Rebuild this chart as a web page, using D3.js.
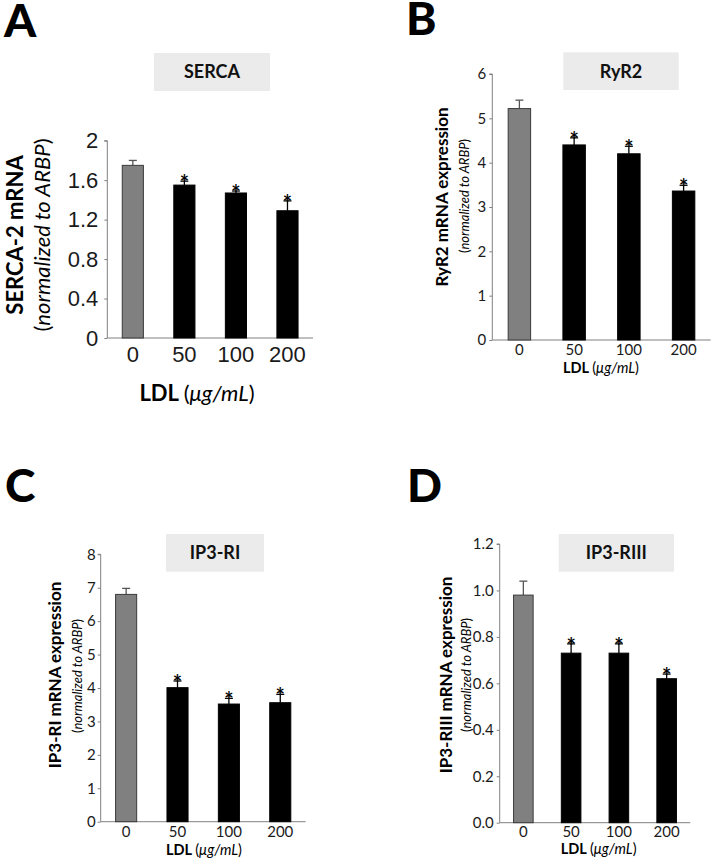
<!DOCTYPE html>
<html>
<head>
<meta charset="utf-8">
<script src="https://cdn.jsdelivr.net/npm/d3@7"></script>
<style>
  html, body { margin: 0; padding: 0; background: #fff; }
  svg { display: block; }
</style>
</head>
<body>
<svg id="chart" width="717" height="862"></svg>
<script>
// ---------- DATA ----------
const categories = ["0", "50", "100", "200"];
const significant = [false, true, true, true];

const sercaValues = [1.75, 1.55, 1.47, 1.29];
const sercaErrors = [0.05, 0.04, 0.02, 0.10];
const sercaTicks = [0, 0.4, 0.8, 1.2, 1.6, 2];

const ryr2Values = [5.22, 4.40, 4.20, 3.36];
const ryr2Errors = [0.19, 0.16, 0.17, 0.13];
const ryr2Ticks = [0, 1, 2, 3, 4, 5, 6];

const ip3r1Values = [6.80, 4.01, 3.52, 3.56];
const ip3r1Errors = [0.18, 0.20, 0.17, 0.25];
const ip3r1Ticks = [0, 1, 2, 3, 4, 5, 6, 7, 8];

const ip3r3Values = [0.98, 0.73, 0.73, 0.62];
const ip3r3Errors = [0.06, 0.04, 0.04, 0.02];
const ip3r3Ticks = [0, 0.2, 0.4, 0.6, 0.8, 1.0, 1.2];

const panelLetters = ["A", "B", "C", "D"];
const panelTitles = ["SERCA", "RyR2", "IP3-RI", "IP3-RIII"];
const yTitles = ["SERCA-2 mRNA", "RyR2 mRNA expression", "IP3-RI mRNA expression", "IP3-RIII mRNA expression"];

// ---------- LAYOUT ----------
const HUM = "Lato, 'Open Sans', 'DejaVu Sans', sans-serif";
const ARIAL = "'Liberation Sans', Arial, sans-serif";

const panels = [
  { letter: panelLetters[0], title: panelTitles[0], ytitle: yTitles[0],
    values: sercaValues, errors: sercaErrors, ticks: sercaTicks, domain: [0, 2], fmt: d => String(d),
    x0: 107.3, x1: 313, yBot: 338, yTop: 140.7,
    tickFont: ARIAL, tickSize: 22, tickPad: 6, xTickDy: 24,
    letterPos: [4, 37], box: [154, 53, 116, 38], titleSize: 18,
    yt1: { x: 15, y: 235, size: 22 }, yt2: { x: 42, y: 235, size: 22 },
    ldl: { x: 197, y: 401, size: 22 } },
  { letter: panelLetters[1], title: panelTitles[1], ytitle: yTitles[1],
    values: ryr2Values, errors: ryr2Errors, ticks: ryr2Ticks, domain: [0, 6], fmt: d => String(d),
    x0: 492.3, x1: 710.7, yBot: 340, yTop: 74,
    tickFont: HUM, tickSize: 15, tickPad: 3, xTickDy: 15,
    letterPos: [406, 35], box: [563.3, 52.3, 115.4, 37.7], titleSize: 18,
    yt1: { x: 442, y: 197, size: 17 }, yt2: { x: 464, y: 196, size: 13 },
    ldl: { x: 601, y: 373, size: 14.5 } },
  { letter: panelLetters[2], title: panelTitles[2], ytitle: yTitles[2],
    values: ip3r1Values, errors: ip3r1Errors, ticks: ip3r1Ticks, domain: [0, 8], fmt: d => String(d),
    x0: 100.7, x1: 305.7, yBot: 821.7, yTop: 554.3,
    tickFont: HUM, tickSize: 15, tickPad: 2, xTickDy: 15,
    letterPos: [5, 502], box: [166, 534, 98, 37.7], titleSize: 18,
    yt1: { x: 55, y: 675, size: 17 }, yt2: { x: 77.3, y: 676, size: 13 },
    ldl: { x: 204, y: 855, size: 14.5 } },
  { letter: panelLetters[3], title: panelTitles[3], ytitle: yTitles[3],
    values: ip3r3Values, errors: ip3r3Errors, ticks: ip3r3Ticks, domain: [0, 1.2], fmt: d3.format(".1f"),
    x0: 499.7, x1: 690.3, yBot: 822.7, yTop: 544,
    tickFont: HUM, tickSize: 15, tickPad: 3, xTickDy: 14,
    letterPos: [407, 502], box: [558.7, 534, 115.3, 37.7], titleSize: 18,
    yt1: { x: 446.3, y: 675, size: 17 }, yt2: { x: 466.3, y: 675, size: 13 },
    ldl: { x: 598.7, y: 853.5, size: 14.5 } }
];

const svg = d3.select("#chart");
const AXIS = "#808080";

panels.forEach(p => {
  const g = svg.append("g");

  const x = d3.scaleBand().domain(categories).range([p.x0, p.x1])
    .paddingInner(0.59).paddingOuter(0.29);
  const y = d3.scaleLinear().domain(p.domain).range([p.yBot, p.yTop]);

  // panel letter
  g.append("text").attr("x", p.letterPos[0]).attr("y", p.letterPos[1])
    .attr("font-family", HUM).attr("font-weight", 900).attr("font-size", 46)
    .attr("fill", "#000").text(p.letter);

  // title box
  g.append("rect").attr("x", p.box[0]).attr("y", p.box[1])
    .attr("width", p.box[2]).attr("height", p.box[3]).attr("fill", "#ebebeb");
  g.append("text").attr("x", p.box[0] + p.box[2] / 2).attr("y", p.box[1] + p.box[3] / 2)
    .attr("dy", "0.36em").attr("text-anchor", "middle")
    .attr("font-family", HUM).attr("font-weight", 700).attr("font-size", p.titleSize)
    .attr("fill", "#111").text(p.title);

  // y axis
  const yAxis = d3.axisLeft(y).tickValues(p.ticks).tickFormat(p.fmt)
    .tickSize(3).tickPadding(p.tickPad);
  const ya = g.append("g").attr("transform", `translate(${p.x0},0)`).call(yAxis);
  ya.select(".domain").attr("stroke", AXIS).attr("d", `M-3,${p.yTop}H0V${p.yBot}`);
  ya.selectAll(".tick line").attr("stroke", AXIS);
  ya.selectAll(".tick text").attr("font-family", p.tickFont).attr("font-size", p.tickSize)
    .attr("fill", "#1a1a1a");

  // x axis
  const xAxis = d3.axisBottom(x).tickSize(0).tickPadding(0);
  const xa = g.append("g").attr("transform", `translate(0,${p.yBot})`).call(xAxis);
  xa.select(".domain").attr("stroke", AXIS).attr("d", `M${p.x0},0H${p.x1}`);
  xa.selectAll(".tick text").attr("font-family", p.tickFont).attr("font-size", p.tickSize)
    .attr("fill", "#1a1a1a").attr("y", p.xTickDy).attr("dy", 0);

  const data = categories.map((c, i) => ({ c, v: p.values[i], e: p.errors[i], s: significant[i], i }));

  // error bars (drawn behind bars)
  const eb = g.append("g").selectAll("g").data(data).join("g")
    .attr("stroke", d => d.i === 0 ? "#555" : "#000").attr("stroke-width", 1.3);
  eb.append("line")
    .attr("x1", d => x(d.c) + x.bandwidth() / 2).attr("x2", d => x(d.c) + x.bandwidth() / 2)
    .attr("y1", d => y(d.v)).attr("y2", d => y(d.v + d.e));
  eb.append("line")
    .attr("x1", d => x(d.c) + x.bandwidth() / 2 - 4).attr("x2", d => x(d.c) + x.bandwidth() / 2 + 4)
    .attr("y1", d => y(d.v + d.e)).attr("y2", d => y(d.v + d.e));

  // bars
  g.append("g").selectAll("rect").data(data).join("rect")
    .attr("x", d => x(d.c)).attr("width", x.bandwidth())
    .attr("y", d => y(d.v)).attr("height", d => y(0) - y(d.v))
    .attr("fill", d => d.i === 0 ? "#808080" : "#000")
    .attr("stroke", d => d.i === 0 ? "#3a3a3a" : "#000").attr("stroke-width", 1);

  // significance asterisks
  g.append("g").selectAll("text").data(data.filter(d => d.s)).join("text")
    .attr("x", d => x(d.c) + x.bandwidth() / 2)
    .attr("y", d => y(d.v + d.e) + 10)
    .attr("text-anchor", "middle").attr("font-family", HUM).attr("font-size", 22)
    .attr("font-weight", 700).attr("fill", "#000").text("*");

  // y titles
  g.append("text").attr("transform", `translate(${p.yt1.x},${p.yt1.y}) rotate(-90)`)
    .attr("dy", "0.36em").attr("text-anchor", "middle")
    .attr("font-family", HUM).attr("font-weight", 700).attr("font-size", p.yt1.size)
    .attr("fill", "#000").text(p.ytitle);
  const st = g.append("text").attr("transform", `translate(${p.yt2.x},${p.yt2.y}) rotate(-90)`)
    .attr("dy", "0.36em").attr("text-anchor", "middle")
    .attr("font-family", HUM).attr("font-size", p.yt2.size).attr("fill", "#000");
  st.append("tspan").text("(");
  st.append("tspan").attr("font-style", "italic").text("normalized to ARBP");
  st.append("tspan").text(")");

  // x title
  const xt = g.append("text").attr("x", p.ldl.x).attr("y", p.ldl.y).attr("text-anchor", "middle")
    .attr("font-family", HUM).attr("font-size", p.ldl.size).attr("fill", "#000");
  xt.append("tspan").attr("font-weight", 700).text("LDL ");
  xt.append("tspan").text("(");
  xt.append("tspan").attr("font-style", "italic").text("μg/mL");
  xt.append("tspan").text(")");
});
</script>
</body>
</html>
